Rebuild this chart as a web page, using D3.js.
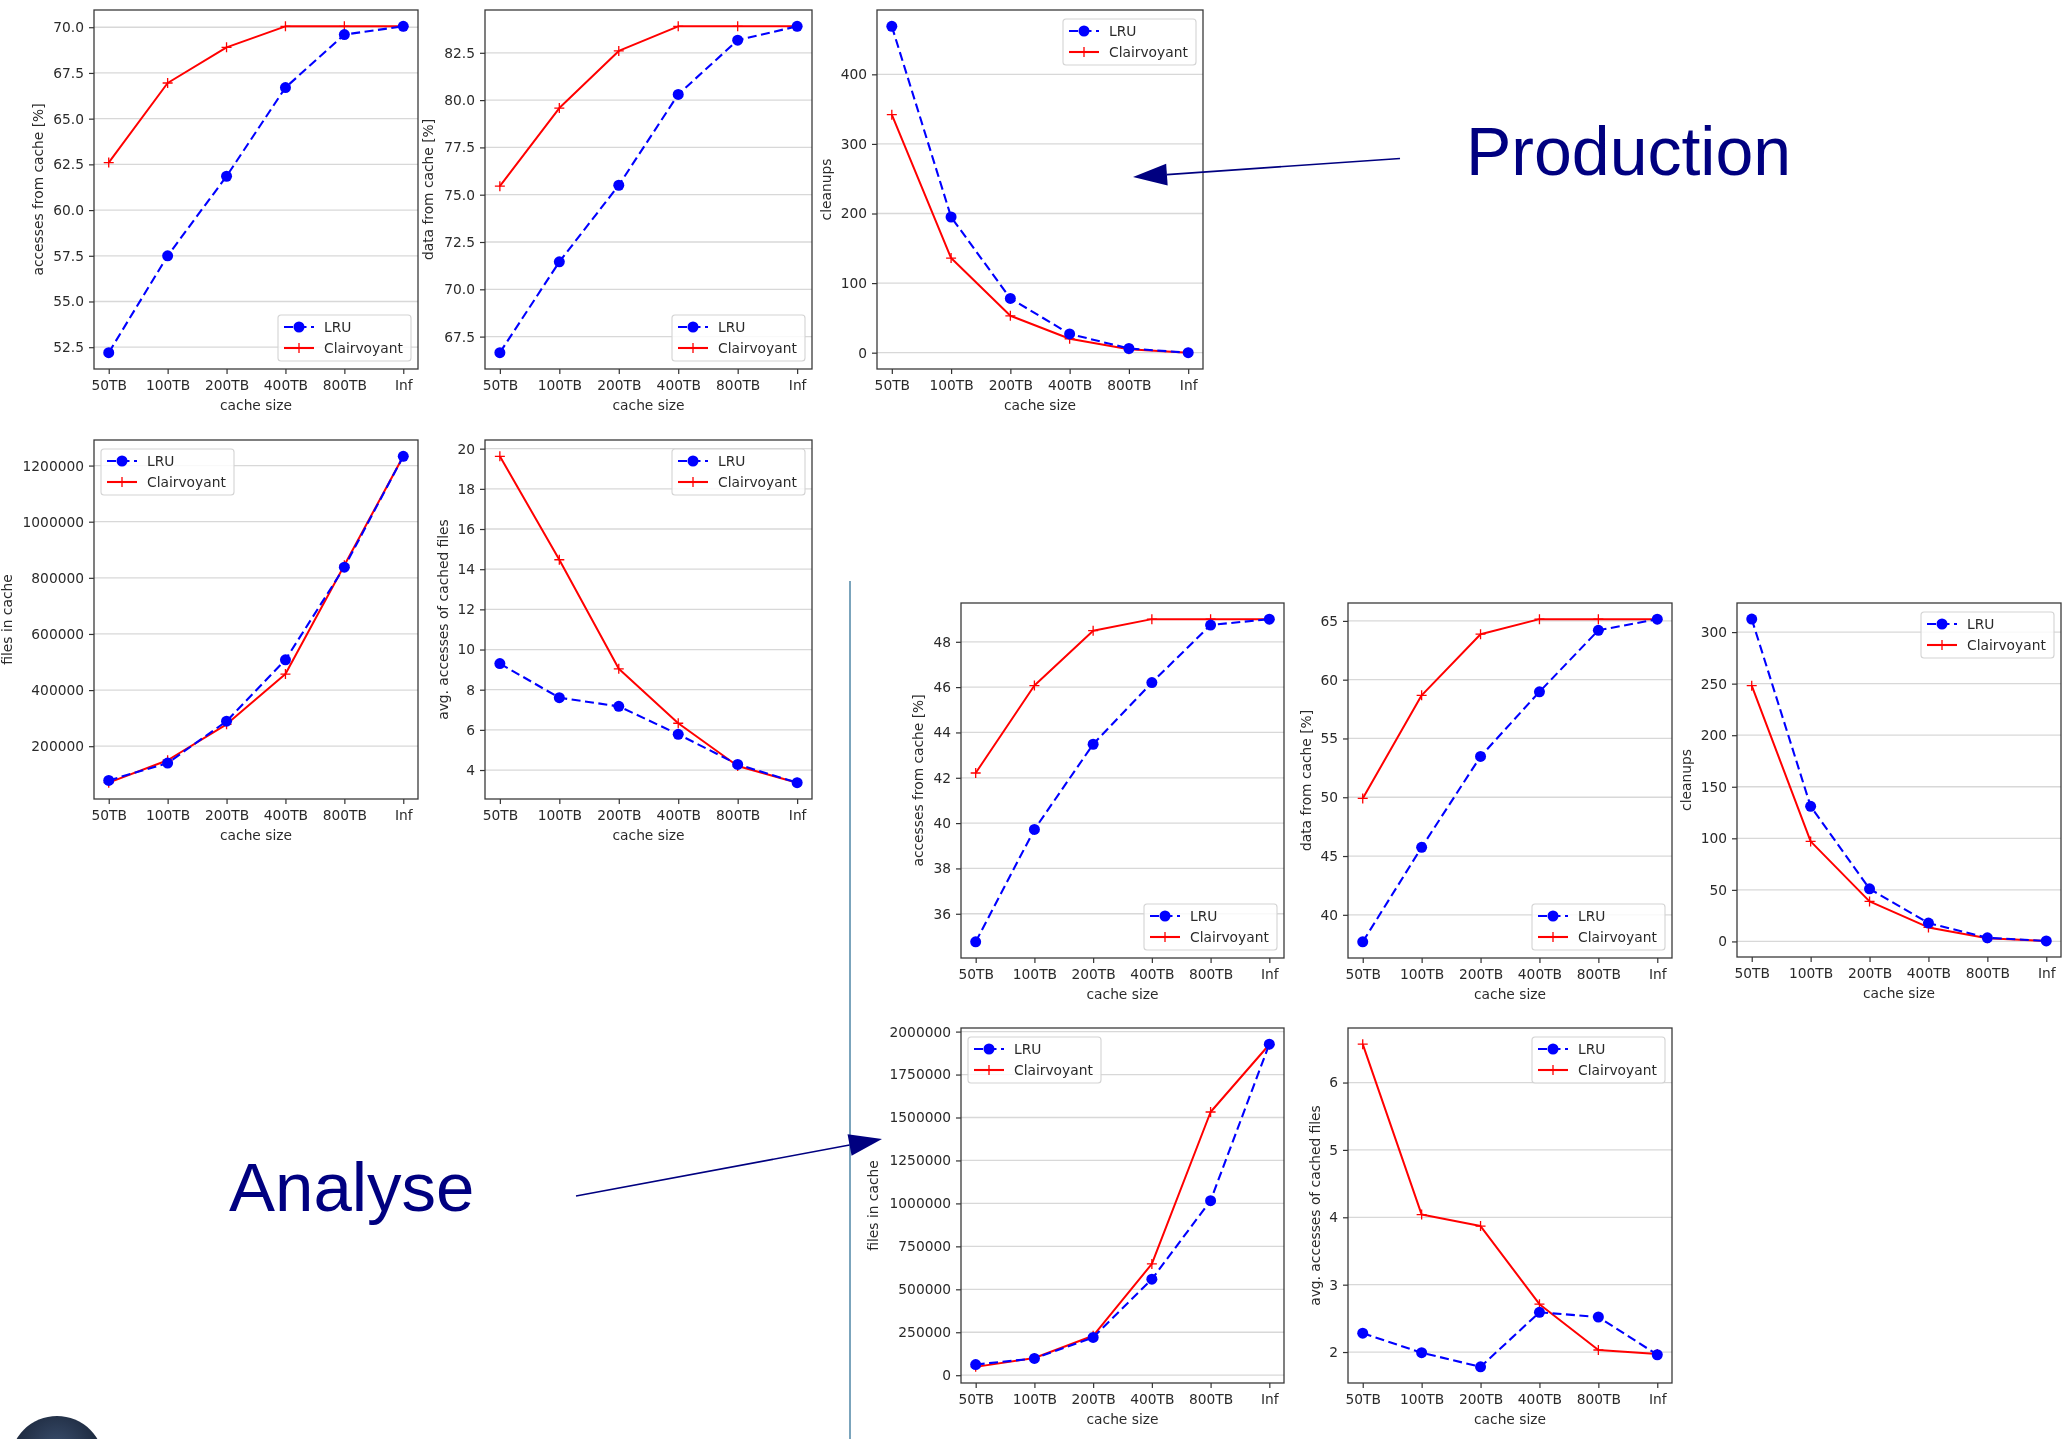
<!DOCTYPE html>
<html>
<head>
<meta charset="utf-8">
<script src="https://cdn.jsdelivr.net/npm/d3@7"></script>
<style>
  html, body { margin: 0; padding: 0; background: #ffffff; }
  svg { display: block; }
</style>
</head>
<body>
<svg id="slide" width="2066" height="1439"></svg>
<script>
// Cache sizes on the x axis (shared by every panel)
const cacheSizes = ["50TB", "100TB", "200TB", "400TB", "800TB", "Inf"];
const seriesNames = ["LRU", "Clairvoyant"];

// Production results
const prodAccessLRU   = [52.2, 57.5, 61.85, 66.7, 69.6, 70.05];
const prodAccessClair = [62.6, 66.95, 68.9, 70.05, 70.05, 70.05];
const prodDataLRU     = [66.65, 71.45, 75.5, 80.3, 83.17, 83.9];
const prodDataClair   = [75.45, 79.58, 82.6, 83.9, 83.9, 83.9];
const prodCleanLRU    = [469, 195, 78, 27, 6, 0];
const prodCleanClair  = [342, 136, 53, 20, 5, 0];
const prodFilesLRU    = [78000, 140000, 289000, 508000, 838000, 1233000];
const prodFilesClair  = [70000, 150000, 278000, 457000, 845000, 1233000];
const prodAvgLRU      = [9.3, 7.6, 7.17, 5.78, 4.28, 3.37];
const prodAvgClair    = [19.62, 14.47, 9.04, 6.33, 4.2, 3.37];

// Analysis results
const anaAccessLRU   = [34.76, 39.72, 43.48, 46.2, 48.74, 49.0];
const anaAccessClair = [42.21, 46.07, 48.49, 49.0, 49.0, 49.0];
const anaDataLRU     = [37.7, 45.74, 53.47, 58.97, 64.2, 65.15];
const anaDataClair   = [49.9, 58.67, 63.87, 65.15, 65.15, 65.15];
const anaCleanLRU    = [312.6, 131, 51, 17.8, 3.5, 0.5];
const anaCleanClair  = [248, 97, 38.8, 13.6, 3, 0.5];
const anaFilesLRU    = [62000, 97500, 220000, 559000, 1016000, 1927000];
const anaFilesClair  = [48600, 100000, 229600, 648000, 1532000, 1925000];
const anaAvgLRU      = [2.28, 1.99, 1.78, 2.59, 2.52, 1.96];
const anaAvgClair    = [6.57, 4.04, 3.87, 2.71, 2.03, 1.97];

// Y tick values per metric
const prodAccessTicks = [52.5, 55, 57.5, 60, 62.5, 65, 67.5, 70];
const prodDataTicks   = [67.5, 70, 72.5, 75, 77.5, 80, 82.5];
const prodCleanTicks  = [0, 100, 200, 300, 400];
const prodFilesTicks  = [200000, 400000, 600000, 800000, 1000000, 1200000];
const prodAvgTicks    = [4, 6, 8, 10, 12, 14, 16, 18, 20];
const anaAccessTicks  = [36, 38, 40, 42, 44, 46, 48];
const anaDataTicks    = [40, 45, 50, 55, 60, 65];
const anaCleanTicks   = [0, 50, 100, 150, 200, 250, 300];
const anaFilesTicks   = [0, 250000, 500000, 750000, 1000000, 1250000, 1500000, 1750000, 2000000];
const anaAvgTicks     = [2, 3, 4, 5, 6];

// Axis titles
const xTitle = "cache size";
const yTitles = {
  access: "accesses from cache [%]",
  data: "data from cache [%]",
  clean: "cleanups",
  files: "files in cache",
  avg: "avg. accesses of cached files"
};

const svg = d3.select("#slide");
const FONT = "'DejaVu Sans', sans-serif";
const TXT = "#2b2b2b";
const FS = 13.8;
const LRU_COLOR = "#0000ff";
const CLAIR_COLOR = "#ff0000";

const fmt1 = d3.format(".1f");
const fmtInt = d3.format("d");

// The chart panels are rendered slightly soft
const defs = svg.append("defs");
defs.append("filter").attr("id", "soft").attr("x", "-5%").attr("y", "-5%").attr("width", "110%").attr("height", "110%")
  .append("feGaussianBlur").attr("stdDeviation", 0.55);

// Panel layout: frame box, y-label offset, legend corner
const panels = [
  { x: 94,   y: 10,   w: 324, h: 359, lru: prodAccessLRU, clair: prodAccessClair, ticks: prodAccessTicks, fmt: fmt1,  title: yTitles.access, lab: 56, legend: "lr" },
  { x: 485,  y: 10,   w: 327, h: 359, lru: prodDataLRU,   clair: prodDataClair,   ticks: prodDataTicks,   fmt: fmt1,  title: yTitles.data,   lab: 57, legend: "lr" },
  { x: 877,  y: 10,   w: 326, h: 359, lru: prodCleanLRU,  clair: prodCleanClair,  ticks: prodCleanTicks,  fmt: fmtInt, title: yTitles.clean, lab: 51, legend: "ur" },
  { x: 94,   y: 440,  w: 324, h: 359, lru: prodFilesLRU,  clair: prodFilesClair,  ticks: prodFilesTicks,  fmt: fmtInt, title: yTitles.files, lab: 87, legend: "ul" },
  { x: 485,  y: 440,  w: 327, h: 359, lru: prodAvgLRU,    clair: prodAvgClair,    ticks: prodAvgTicks,    fmt: fmtInt, title: yTitles.avg,   lab: 42, legend: "ur" },
  { x: 961,  y: 603,  w: 323, h: 355, lru: anaAccessLRU,  clair: anaAccessClair,  ticks: anaAccessTicks,  fmt: fmtInt, title: yTitles.access, lab: 43, legend: "lr" },
  { x: 1348, y: 603,  w: 324, h: 355, lru: anaDataLRU,    clair: anaDataClair,    ticks: anaDataTicks,    fmt: fmtInt, title: yTitles.data,   lab: 42, legend: "lr" },
  { x: 1737, y: 603,  w: 324, h: 354, lru: anaCleanLRU,   clair: anaCleanClair,   ticks: anaCleanTicks,   fmt: fmtInt, title: yTitles.clean,  lab: 51, legend: "ur" },
  { x: 961,  y: 1028, w: 323, h: 355, lru: anaFilesLRU,   clair: anaFilesClair,   ticks: anaFilesTicks,   fmt: fmtInt, title: yTitles.files,  lab: 88, legend: "ul" },
  { x: 1348, y: 1028, w: 324, h: 355, lru: anaAvgLRU,     clair: anaAvgClair,     ticks: anaAvgTicks,     fmt: fmtInt, title: yTitles.avg,    lab: 33, legend: "ur" }
];

const plusPath = "M-5,0H5M0,-5V5";

function drawPanel(p) {
  const g = svg.append("g").attr("filter", "url(#soft)");
  const x = d3.scalePoint().domain(cacheSizes).range([p.x, p.x + p.w]).padding(0.25);
  const all = p.lru.concat(p.clair);
  const lo = d3.min(all), hi = d3.max(all);
  const pad = (hi - lo) * 0.05;
  const y = d3.scaleLinear().domain([lo - pad, hi + pad]).range([p.y + p.h, p.y]);

  // horizontal grid
  g.append("g").selectAll("line").data(p.ticks).join("line")
    .attr("x1", p.x).attr("x2", p.x + p.w)
    .attr("y1", d => y(d)).attr("y2", d => y(d))
    .attr("stroke", "#d8d8d8").attr("stroke-width", 1.3);

  // axes
  const xAxis = d3.axisBottom(x).tickSize(5).tickPadding(6);
  const yAxis = d3.axisLeft(y).tickValues(p.ticks).tickFormat(p.fmt).tickSize(5).tickPadding(5);
  const gx = g.append("g").attr("transform", `translate(0,${p.y + p.h})`).call(xAxis);
  const gy = g.append("g").attr("transform", `translate(${p.x},0)`).call(yAxis);
  [gx, gy].forEach(a => {
    a.select(".domain").remove();
    a.selectAll(".tick line").attr("stroke", "#333").attr("stroke-width", 1.2);
    a.selectAll(".tick text").attr("fill", TXT).attr("font-family", FONT).attr("font-size", FS);
  });

  // frame
  g.append("rect").attr("x", p.x).attr("y", p.y).attr("width", p.w).attr("height", p.h)
    .attr("fill", "none").attr("stroke", "#3a3a3a").attr("stroke-width", 1.3);

  // axis titles
  g.append("text").attr("x", p.x + p.w / 2).attr("y", p.y + p.h + 41)
    .attr("text-anchor", "middle").attr("fill", TXT).attr("font-family", FONT).attr("font-size", FS)
    .text(xTitle);
  g.append("text")
    .attr("transform", `translate(${p.x - p.lab},${p.y + p.h / 2}) rotate(-90)`)
    .attr("text-anchor", "middle").attr("dominant-baseline", "central")
    .attr("fill", TXT).attr("font-family", FONT).attr("font-size", FS)
    .text(p.title);

  // series
  const line = vals => d3.line().x((d, i) => x(cacheSizes[i])).y(d => y(d))(vals);
  g.append("path").attr("d", line(p.clair)).attr("fill", "none")
    .attr("stroke", CLAIR_COLOR).attr("stroke-width", 2).attr("stroke-linejoin", "round");
  g.append("g").selectAll("path").data(p.clair).join("path")
    .attr("d", plusPath)
    .attr("transform", (d, i) => `translate(${x(cacheSizes[i])},${y(d)})`)
    .attr("stroke", CLAIR_COLOR).attr("stroke-width", 1.3);

  g.append("path").attr("d", line(p.lru)).attr("fill", "none")
    .attr("stroke", LRU_COLOR).attr("stroke-width", 2.1).attr("stroke-dasharray", "9,4.5");
  g.append("g").selectAll("circle").data(p.lru).join("circle")
    .attr("cx", (d, i) => x(cacheSizes[i])).attr("cy", d => y(d)).attr("r", 5.5)
    .attr("fill", LRU_COLOR);

  // legend
  const lw = 133, lh = 46;
  let lx, ly;
  if (p.legend === "lr") { lx = p.x + p.w - 7 - lw; ly = p.y + p.h - 8 - lh; }
  else if (p.legend === "ur") { lx = p.x + p.w - 7 - lw; ly = p.y + 9; }
  else { lx = p.x + 7; ly = p.y + 9; }
  const lg = g.append("g").attr("transform", `translate(${lx},${ly})`);
  lg.append("rect").attr("width", lw).attr("height", lh).attr("rx", 3)
    .attr("fill", "#ffffff").attr("fill-opacity", 0.85)
    .attr("stroke", "#d3d3d3").attr("stroke-width", 1.1);
  seriesNames.forEach((name, i) => {
    const cy = 12 + i * 21;
    const isLRU = i === 0;
    lg.append("line").attr("x1", 6).attr("x2", 36).attr("y1", cy).attr("y2", cy)
      .attr("stroke", isLRU ? LRU_COLOR : CLAIR_COLOR).attr("stroke-width", 2.1)
      .attr("stroke-dasharray", isLRU ? "9,4.5" : null);
    if (isLRU) {
      lg.append("circle").attr("cx", 21).attr("cy", cy).attr("r", 5.5).attr("fill", LRU_COLOR);
    } else {
      lg.append("path").attr("d", plusPath).attr("transform", `translate(21,${cy})`)
        .attr("stroke", CLAIR_COLOR).attr("stroke-width", 1.3);
    }
    lg.append("text").attr("x", 46).attr("y", cy).attr("dominant-baseline", "central")
      .attr("fill", TXT).attr("font-family", FONT).attr("font-size", FS).text(name);
  });
}

panels.forEach(drawPanel);

// Separator line between the two groups
svg.append("line").attr("x1", 850).attr("x2", 850).attr("y1", 581).attr("y2", 1439)
  .attr("stroke", "#4f86a6").attr("stroke-width", 1.5);

// Annotation arrows and captions
const NAVY = "#000080";
function arrow(x1, y1, x2, y2, headLen, headHalf) {
  const dx = x2 - x1, dy = y2 - y1, len = Math.hypot(dx, dy);
  const ux = dx / len, uy = dy / len;
  const bx = x2 - ux * headLen, by = y2 - uy * headLen;
  svg.append("line").attr("x1", x1).attr("y1", y1).attr("x2", bx).attr("y2", by)
    .attr("stroke", NAVY).attr("stroke-width", 1.6);
  svg.append("path")
    .attr("d", `M${x2},${y2}L${bx - uy * headHalf},${by + ux * headHalf}L${bx + uy * headHalf},${by - ux * headHalf}Z`)
    .attr("fill", NAVY);
}
arrow(1400, 158.5, 1133, 177, 34, 11);
arrow(576, 1196, 882, 1139, 33, 11);

svg.append("text").attr("x", 1466).attr("y", 174.5)
  .attr("font-family", "'Liberation Sans', Arial, sans-serif").attr("font-size", 68)
  .attr("fill", NAVY).text("Production");
svg.append("text").attr("x", 229).attr("y", 1211)
  .attr("font-family", "'Liberation Sans', Arial, sans-serif").attr("font-size", 69)
  .attr("fill", NAVY).text("Analyse");

// Corner logo badge
const rg = defs.append("radialGradient").attr("id", "badge").attr("cx", "50%").attr("cy", "35%").attr("r", "60%");
rg.append("stop").attr("offset", "0%").attr("stop-color", "#3b4f6e");
rg.append("stop").attr("offset", "100%").attr("stop-color", "#141e30");
svg.append("circle").attr("cx", 57).attr("cy", 1463).attr("r", 47).attr("fill", "url(#badge)");
</script>
</body>
</html>
